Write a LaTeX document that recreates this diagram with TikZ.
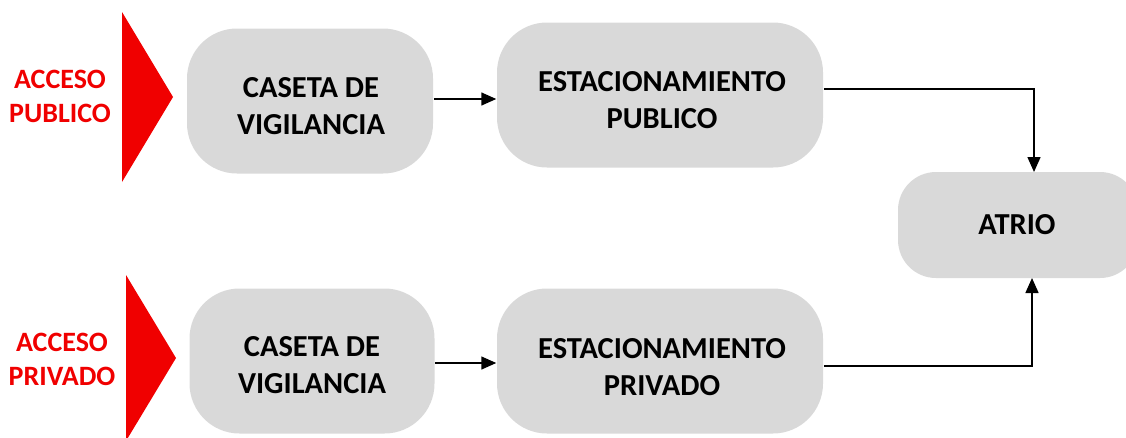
\documentclass[tikz,border=0pt]{standalone}
\usepackage{fontspec}
\setmainfont{Carlito}
\usetikzlibrary{arrows.meta}
\definecolor{boxgray}{RGB}{217,217,217}
\definecolor{accred}{RGB}{240,0,0}
\begin{document}
\begin{tikzpicture}[x=1pt,y=-1pt,>={Triangle[length=15pt,width=13pt]},line width=1.5pt,
  paso/.style={rounded corners=50pt,fill=boxgray,inner sep=0pt,minimum height=145pt},
  rotulo/.style={align=center,inner sep=0pt,font=\fontsize{30.5}{36.5}\selectfont\bfseries},
  acceso/.style={align=center,text=accred,font=\fontsize{28}{34}\selectfont\bfseries}]
  \useasboundingbox (0,0) rectangle (1126,437);
  % entradas
  \fill[accred] (122,12)--(173,97)--(122,182)--cycle;
  \fill[accred] (126,275)--(176,358)--(126,441)--cycle;
  \node[acceso] (accpub) at (60,96) {ACCESO\\PUBLICO};
  \node[acceso] (accpriv) at (62,359) {ACCESO\\PRIVADO};
  % cajas
  \node[paso,minimum width=246pt] (cas1) at (310,101) {};
  \node[paso,minimum width=245pt] (cas2) at (312,361) {};
  \node[paso,minimum width=326pt] (est1) at (660,95) {};
  \node[paso,minimum width=326pt] (est2) at (660,361) {};
  \node[paso,minimum width=240pt,minimum height=106pt,rounded corners=38pt] (atrio) at (1018,225) {};
  \node[rotulo] (cas1t) at (311,106) {CASETA DE\\VIGILANCIA};
  \node[rotulo] (cas2t) at (312,365) {CASETA DE\\VIGILANCIA};
  \node[rotulo] (est1t) at (662,100) {ESTACIONAMIENTO\\PUBLICO};
  \node[rotulo] (est2t) at (662,367) {ESTACIONAMIENTO\\PRIVADO};
  \node[rotulo] (atriot) at (1017,225) {ATRIO};
  \coordinate (atn) at (1034,172);
  \coordinate (ats) at (1032,278);
  % flechas
  \draw[->] (cas1.east |- 0,99) -- (est1.west |- 0,99);
  \draw[->] (cas2.east |- 0,363) -- (est2.west |- 0,363);
  \draw[->] (est1.east |- 0,89) -| (atn);
  \draw[->] (est2.east |- 0,366) -| (ats);
\end{tikzpicture}
\end{document}
